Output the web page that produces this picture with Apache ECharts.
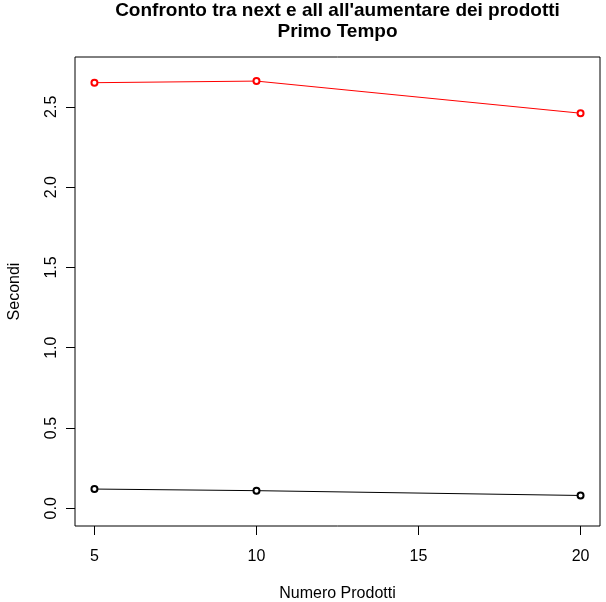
<!DOCTYPE html>
<html>
<head>
<meta charset="utf-8">
<script src="https://cdn.jsdelivr.net/npm/echarts@6/dist/echarts.min.js"></script>
<style>html,body{margin:0;padding:0;background:#fff;}#c{width:606px;height:602px;}</style>
</head>
<body>
<div id="c"></div>
<script>
const prodotti = [5, 10, 20];
const nextSec = [0.12, 0.11, 0.08];
const allSec = [2.65, 2.66, 2.46];
const xTicks = [5, 10, 15, 20];
const yTicks = [0, 0.5, 1.0, 1.5, 2.0, 2.5];
const titleLines = ["Confronto tra next e all all'aumentare dei prodotti", "Primo Tempo"];

const font = 'Liberation Sans, Arial, Helvetica, sans-serif';
const chart = echarts.init(document.getElementById('c'), null, {renderer: 'canvas'});
chart.setOption({
  animation: false,
  backgroundColor: '#fff',
  graphic: [
    {type: 'text', x: 337.5, y: 10.5, style: {text: titleLines[0], font: 'bold 19px ' + font, fill: '#000', align: 'center', verticalAlign: 'middle'}},
    {type: 'text', x: 337.5, y: 31.5, style: {text: titleLines[1], font: 'bold 19px ' + font, fill: '#000', align: 'center', verticalAlign: 'middle'}}
  ],
  grid: {left: 75, right: 6, top: 57, bottom: 76, show: true, borderColor: '#000', borderWidth: 1,
    backgroundColor: 'transparent', containLabel: false, outerBoundsMode: 'none'},
  xAxis: {
    type: 'value', min: 4.4, max: 20.6,
    name: 'Numero Prodotti', nameLocation: 'middle', nameGap: 60,
    nameTextStyle: {fontFamily: font, fontSize: 16, color: '#000'},
    axisLine: {show: false, onZero: false},
    splitLine: {show: false},
    axisTick: {show: true, inside: false, length: 9, customValues: xTicks, lineStyle: {color: '#000'}},
    axisLabel: {customValues: xTicks, margin: 23, fontFamily: font, fontSize: 16, color: '#000'}
  },
  yAxis: {
    type: 'value', min: -0.11, max: 2.81,
    name: 'Secondi', nameLocation: 'middle', nameGap: 52, nameRotate: 90,
    nameTextStyle: {fontFamily: font, fontSize: 16, color: '#000'},
    axisLine: {show: false, onZero: false},
    splitLine: {show: false},
    axisTick: {show: true, inside: false, length: 9, customValues: yTicks, lineStyle: {color: '#000'}},
    axisLabel: {customValues: yTicks, rotate: 90, margin: 15, fontFamily: font, fontSize: 16, color: '#000',
      formatter: v => v.toFixed(1)}
  },
  series: [
    {type: 'line', data: prodotti.map((x, i) => [x, nextSec[i]]), symbol: 'emptyCircle', symbolSize: 6,
      lineStyle: {color: '#000', width: 1}, itemStyle: {color: '#000', borderColor: '#000', borderWidth: 0.7}},
    {type: 'line', data: prodotti.map((x, i) => [x, allSec[i]]), symbol: 'emptyCircle', symbolSize: 6,
      lineStyle: {color: '#ff0000', width: 1}, itemStyle: {color: '#ff0000', borderColor: '#ff0000', borderWidth: 0.7}}
  ]
});
</script>
</body>
</html>
